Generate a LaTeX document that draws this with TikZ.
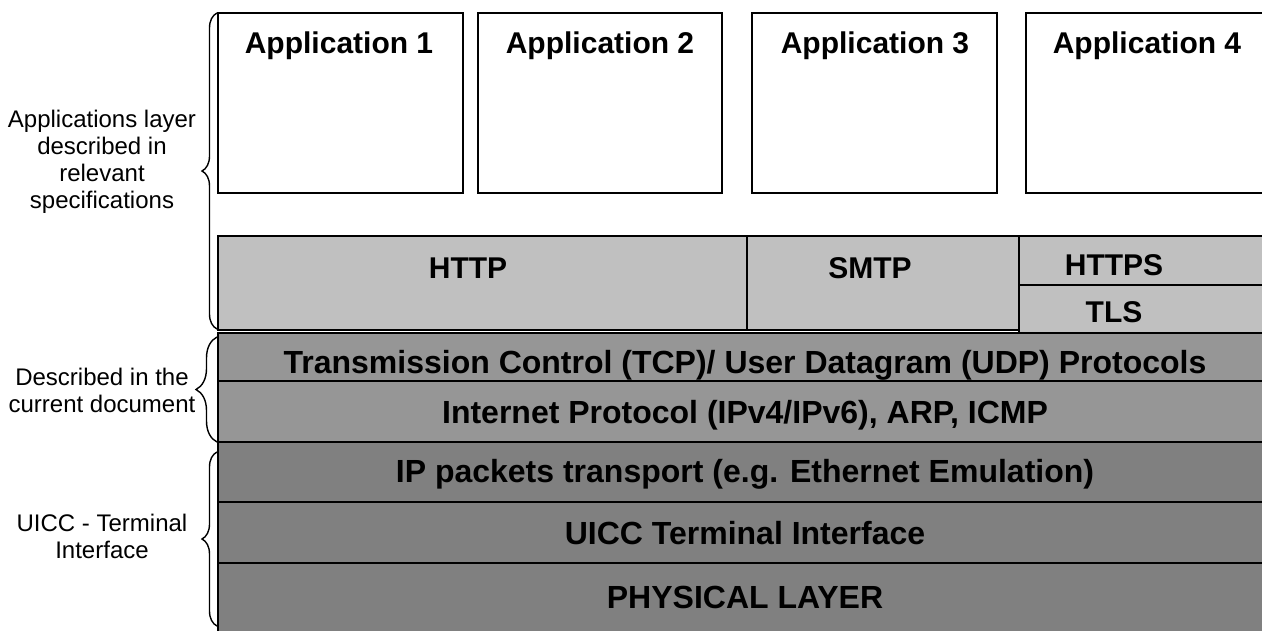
\documentclass[tikz,border=0pt]{standalone}
\usepackage{fontspec}
\setmainfont{Liberation Sans}
\usetikzlibrary{decorations.pathreplacing}
\definecolor{lightL}{RGB}{192,192,192}
\definecolor{midL}{RGB}{150,150,150}
\definecolor{darkL}{RGB}{128,128,128}
\begin{document}
\begin{tikzpicture}[x=1pt,y=-1pt,
 box/.style={draw=black,line width=1.5pt},
 bigtxt/.style={font=\fontsize{32}{38}\selectfont\bfseries, inner sep=0pt, anchor=base},
 midtxt/.style={font=\fontsize{30}{36}\selectfont\bfseries, inner sep=0pt, anchor=base},
 sidetxt/.style={font=\fontsize{24}{27}\selectfont, align=center, inner sep=0pt, anchor=base},
 brc/.style={decorate, decoration={brace, amplitude=15pt}, line width=1.4pt}]
\useasboundingbox (0,0) rectangle (1262,630);
\clip (0,0) rectangle (1262,630);
% application boxes
\draw[box,fill=white] (218,13) rectangle (463,193);
\draw[box,fill=white] (478,13) rectangle (722,193);
\draw[box,fill=white] (752,13) rectangle (997,193);
\draw[box,fill=white] (1026,13) rectangle (1271,193);
\node[midtxt] (app1) at (339,53) {Application 1};
\node[midtxt] (app2) at (600,53) {Application 2};
\node[midtxt] (app3) at (875,53) {Application 3};
\node[midtxt] (app4) at (1147,53) {Application 4};
% protocol row
\draw[box,fill=lightL] (218,236) rectangle (747,330);
\draw[box,fill=lightL] (747,236) rectangle (1019,330);
\draw[box,fill=lightL] (1019,236) rectangle (1275,285);
\draw[box,fill=lightL] (1019,285) rectangle (1275,333);
\node[midtxt] (http) at (468,278) {HTTP};
\node[midtxt] (smtp) at (870,278) {SMTP};
\node[midtxt] (https) at (1114,275) {HTTPS};
\node[midtxt] (tls) at (1114,322) {TLS};
% transport / network
\draw[box,fill=midL] (218,333) rectangle (1275,381);
\draw[box,fill=midL] (218,381) rectangle (1275,442);
\node[bigtxt] (tcp) at (745,373) {Transmission Control (TCP)/ User Datagram (UDP) Protocols};
\node[bigtxt] (ip) at (745,423) {Internet Protocol (IPv4/IPv6), ARP, ICMP};
% interface layers
\draw[box,fill=darkL] (218,442) rectangle (1275,502);
\draw[box,fill=darkL] (218,502) rectangle (1275,563);
\draw[box,fill=darkL] (218,563) rectangle (1275,640);
\node[bigtxt] (ippk) at (745,482) {IP packets transport (e.g. Ethernet Emulation)};
\node[bigtxt] (uicc) at (745,544) {UICC Terminal Interface};
\node[bigtxt] (phy) at (745,608) {PHYSICAL LAYER};
% braces
\coordinate (b1s) at (217,329);
\coordinate (b1e) at (217,13);
\coordinate (b2s) at (217,442);
\coordinate (b2e) at (217,337);
\coordinate (b3s) at (217,626);
\coordinate (b3e) at (217,452);
\draw[brc] (b1s) -- (b1e);
\draw[brc, decoration={brace, amplitude=21pt}] (b2s) -- (b2e);
\draw[brc] (b3s) -- (b3e);
\node[sidetxt] (lab1) at (102,208) {Applications layer\\described in\\relevant\\specifications};
\node[sidetxt] (lab2) at (102,412) {Described in the\\current document};
\node[sidetxt] (lab3) at (102,558) {UICC - Terminal\\Interface};
\end{tikzpicture}
\end{document}
